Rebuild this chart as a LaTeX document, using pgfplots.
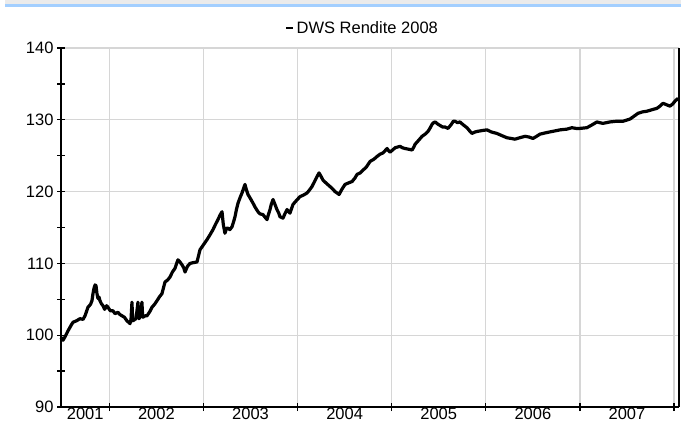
\documentclass[border=0pt]{standalone}
\usepackage{pgfplots}
\pgfplotsset{compat=1.18}
\usepackage{fontspec}
\setmainfont{Liberation Sans}
\definecolor{gridgray}{HTML}{D6D6D6}
\definecolor{bandgray}{HTML}{EBEBEB}
\definecolor{bandblue}{HTML}{A3CFFF}
\begin{document}
\begin{tikzpicture}
\fill[white] (0,0) rectangle (681bp,423bp);
\fill[bandgray] (5bp,419bp) rectangle (681bp,423bp);
\fill[bandblue] (5bp,416bp) rectangle (681bp,419bp);
\begin{axis}[
  at={(61bp,16bp)}, anchor=south west,
  scale only axis, width=618bp, height=359bp,
  xmin=2001.486, xmax=2008.053, ymin=90, ymax=140,
  axis lines=left,
  axis line style={-, black, line width=1.5bp},
  xtick={2001.743,2002.5,2003.5,2004.5,2005.5,2006.5,2007.5},
  xticklabels={2001,2002,2003,2004,2005,2006,2007},
  minor xtick={2002,2003,2004,2005,2006,2007,2008},
  xminorgrids=true,
  ytick={90,100,110,120,130,140},
  minor ytick={95,105,115,125,135},
  ymajorgrids=true,
  grid style={gridgray, line width=1.3bp},
  minor grid style={gridgray, line width=1.3bp},
  tick align=center,
  major tick length=8bp, minor tick length=8bp,
  every tick/.style={black, line width=1.3bp},
  major x tick style={draw=none},
  xticklabel style={yshift=7bp},
  tick label style={font=\fontsize{16.5bp}{18bp}\selectfont},
  /pgf/number format/assume math mode=true,
  legend style={at={(0.4879,1.0557)}, anchor=center, draw=none, fill=none,
    font=\fontsize{16.5bp}{18bp}\selectfont, inner sep=0pt},
  legend image code/.code={\draw[black, line width=2.5bp] (0bp,0bp) -- (7bp,0bp);},
  clip=false,
]
\addplot[black, line width=3.2bp, line join=round] table {
2001.486 99.7
2001.507 99.3
2001.53 99.8
2001.56 100.6
2001.59 101.3
2001.613 101.8
2001.65 102.0
2001.688 102.3
2001.72 102.2
2001.741 102.7
2001.773 103.9
2001.80 104.3
2001.815 104.8
2001.826 105.8
2001.836 106.5
2001.848 107.0
2001.858 106.9
2001.868 105.8
2001.879 105.1
2001.89 105.3
2001.900 104.8
2001.915 104.4
2001.932 104.1
2001.95 103.6
2001.97 104.1
2001.985 103.9
2002.01 103.4
2002.038 103.4
2002.06 103.0
2002.091 103.2
2002.11 102.9
2002.134 102.7
2002.16 102.5
2002.187 102.0
2002.205 101.8
2002.219 101.6
2002.23 102.2
2002.240 104.6
2002.246 102.6
2002.251 102.0
2002.27 102.2
2002.283 102.3
2002.294 103.5
2002.304 104.6
2002.31 102.8
2002.315 102.3
2002.33 102.6
2002.346 104.6
2002.352 103.0
2002.357 102.5
2002.38 102.7
2002.400 102.7
2002.43 103.3
2002.453 103.9
2002.48 104.3
2002.506 104.8
2002.53 105.3
2002.559 105.8
2002.575 106.6
2002.591 107.4
2002.62 107.7
2002.644 108.1
2002.67 108.8
2002.697 109.3
2002.715 110.0
2002.729 110.5
2002.75 110.2
2002.772 109.8
2002.79 109.4
2002.804 108.8
2002.83 109.6
2002.857 110.0
2002.89 110.1
2002.931 110.2
2002.95 111.2
2002.963 111.9
2003.00 112.6
2003.037 113.3
2003.07 114.0
2003.101 114.7
2003.13 115.5
2003.154 116.1
2003.175 116.7
2003.197 117.2
2003.21 115.5
2003.228 114.2
2003.245 114.9
2003.260 114.9
2003.28 114.7
2003.303 115.1
2003.32 115.8
2003.335 116.5
2003.35 117.5
2003.367 118.4
2003.39 119.2
2003.409 119.8
2003.425 120.4
2003.441 121.0
2003.455 120.3
2003.473 119.6
2003.50 119.0
2003.526 118.4
2003.55 117.8
2003.579 117.2
2003.60 116.9
2003.632 116.8
2003.65 116.5
2003.675 116.1
2003.69 116.8
2003.707 117.5
2003.72 118.2
2003.739 118.9
2003.76 118.2
2003.781 117.5
2003.80 117.0
2003.813 116.5
2003.83 116.4
2003.845 116.3
2003.865 116.9
2003.888 117.5
2003.905 117.2
2003.919 117.0
2003.935 117.6
2003.951 118.2
2003.99 118.8
2004.026 119.3
2004.06 119.5
2004.100 119.8
2004.125 120.2
2004.153 120.7
2004.18 121.4
2004.207 122.1
2004.228 122.6
2004.25 122.1
2004.270 121.6
2004.31 121.1
2004.345 120.7
2004.37 120.4
2004.398 120.0
2004.42 119.8
2004.441 119.6
2004.47 120.3
2004.504 121.0
2004.54 121.2
2004.579 121.4
2004.61 121.9
2004.632 122.4
2004.665 122.6
2004.696 123.0
2004.73 123.4
2004.770 124.2
2004.81 124.5
2004.845 124.9
2004.875 125.2
2004.909 125.4
2004.93 125.7
2004.951 126.0
2004.967 125.7
2004.983 125.5
2005.01 125.8
2005.036 126.1
2005.06 126.2
2005.089 126.3
2005.115 126.1
2005.142 126.0
2005.18 125.9
2005.217 125.8
2005.235 126.2
2005.249 126.6
2005.29 127.2
2005.323 127.7
2005.355 128.0
2005.387 128.4
2005.41 128.9
2005.430 129.4
2005.445 129.6
2005.462 129.7
2005.49 129.4
2005.515 129.2
2005.54 129.0
2005.566 129.0
2005.598 128.8
2005.63 129.3
2005.655 129.8
2005.672 129.8
2005.70 129.6
2005.725 129.7
2005.76 129.3
2005.800 128.9
2005.825 128.5
2005.853 128.1
2005.885 128.3
2005.916 128.4
2005.96 128.5
2006.012 128.6
2006.06 128.3
2006.118 128.1
2006.17 127.8
2006.224 127.5
2006.27 127.4
2006.310 127.3
2006.36 127.5
2006.416 127.7
2006.46 127.6
2006.501 127.4
2006.54 127.7
2006.575 128.0
2006.64 128.2
2006.714 128.4
2006.79 128.6
2006.862 128.7
2006.915 128.9
2006.96 128.8
2007.000 128.8
2007.074 128.9
2007.13 129.3
2007.180 129.7
2007.21 129.6
2007.244 129.5
2007.318 129.7
2007.39 129.8
2007.458 129.8
2007.532 130.1
2007.575 130.5
2007.617 130.9
2007.665 131.1
2007.713 131.2
2007.765 131.4
2007.819 131.6
2007.85 131.9
2007.883 132.3
2007.92 132.1
2007.957 131.9
2007.985 132.2
2008.011 132.6
2008.043 133.0
};
\addlegendentry{DWS Rendite 2008}
\draw[black, line width=1.5bp] (rel axis cs:1,0) -- (rel axis cs:1,1);
\end{axis}
\pgfresetboundingbox
\useasboundingbox (0,0) rectangle (681bp,423bp);
\end{tikzpicture}
\end{document}
